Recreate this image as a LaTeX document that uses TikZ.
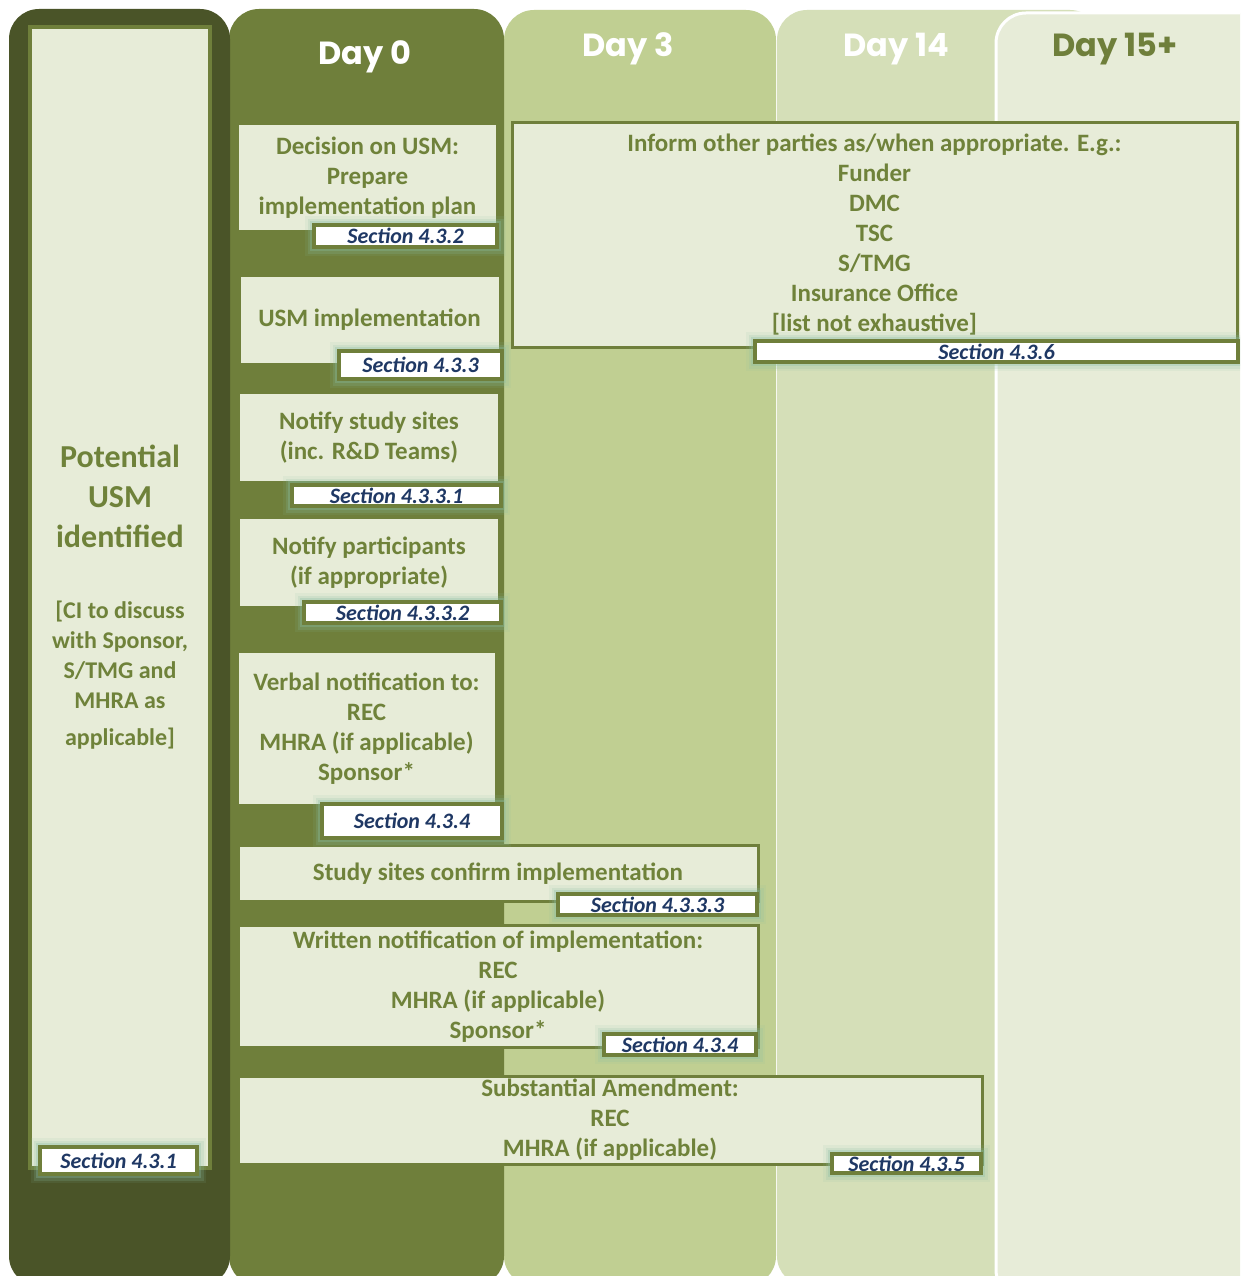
\documentclass[tikz,border=0pt]{standalone}
\usepackage{fontspec}
\setmainfont{Carlito}
\newfontfamily\headfont{Poppins}

\definecolor{leftcol}{RGB}{74,84,40}
\definecolor{dayzero}{RGB}{111,127,59}
\definecolor{daythree}{RGB}{192,207,146}
\definecolor{dayfourteen}{RGB}{213,223,184}
\definecolor{pale}{RGB}{231,236,216}
\definecolor{oltext}{RGB}{111,130,58}
\definecolor{navy}{RGB}{31,56,100}
\definecolor{glow}{RGB}{140,190,165}

\tikzset{
  box/.style={draw=dayzero, line width=3pt, fill=pale, text=oltext, align=center,
    inner sep=0pt, font=\bfseries\fontsize{25}{30}\selectfont},
  seclabel/.style={draw=dayzero, line width=4pt, fill=white, text=navy, inner sep=0pt,
    font=\bfseries\itshape\fontsize{22}{24}\selectfont,
    preaction={draw=glow, line width=18pt, opacity=.1},
    preaction={draw=glow, line width=13pt, opacity=.18},
    preaction={draw=glow, line width=8pt, opacity=.3}},
  dayhead/.style={font=\headfont\bfseries\fontsize{32}{38}\selectfont}
}

\begin{document}
\begin{tikzpicture}[x=1pt,y=-1pt]
        \clip (0,0) rectangle (1240,1276);
        \fill[white] (0,0) rectangle (1240,1276);

        % day columns
        \fill[dayfourteen, rounded corners=30] (777,10) rectangle (1100,1286);
        \filldraw[fill=pale, draw=white, line width=3pt, rounded corners=30] (996,13) rectangle (1290,1300);
        \fill[daythree, rounded corners=30] (504,10) rectangle (776,1286);
        \fill[dayzero, rounded corners=30] (229,9) rectangle (504,1286);
        \fill[leftcol, rounded corners=30] (9,9) rectangle (230,1286);

        % day headers
        \node[dayhead, text=white] (day0) at (365,57) {Day 0};
        \node[dayhead, text=white] (day3) at (628,49) {Day 3};
        \node[dayhead, text=white] (day14) at (896,49) {Day 14};
        \node[dayhead, text=dayzero] (day15) at (1115,49) {Day 15+};

        % left column
        \node[box, line width=4pt, minimum width=180, minimum height=1141] (usm) at (120,597.5) {};
        \node[text=oltext, align=center, font=\bfseries\fontsize{32}{40}\selectfont] (potential) at (120,496)
            {Potential\\USM\\identified};
        \node[text=oltext, align=center, font=\bfseries\fontsize{24}{30}\selectfont] (discuss) at (120,675)
            {[CI to discuss\\with Sponsor,\\S/TMG and\\MHRA as\\[7pt]applicable]};

        % day 0 boxes
        \node[box, minimum width=260, minimum height=108] (decide) at (367.5,177.5)
            {Decision on USM:\\Prepare\\implementation plan};
        \node[box, minimum width=261, minimum height=89] (implement) at (369.5,320)
            {USM implementation};
        \node[box, minimum width=261, minimum height=90] (sites) at (369,437.5)
            {Notify study sites\\(inc. R\&D Teams)};
        \node[box, minimum width=261, minimum height=90] (participants) at (369,562.5)
            {Notify participants\\(if appropriate)};
        \node[box, minimum width=259, minimum height=154] (verbal) at (366.5,728.5)
            {Verbal notification to:\\REC\\MHRA (if applicable)\\Sponsor*};

        % wide boxes
        \node[box, minimum width=520, minimum height=56] (confirm) at (498,873.5)
            {Study sites confirm implementation};
        \node[box, minimum width=520, minimum height=122] (written) at (498,986.5)
            {Written notification of implementation:\\REC\\MHRA (if applicable)\\Sponsor*};
        \node[box, minimum width=744, minimum height=88] (amend) at (610,1120)
            {Substantial Amendment:\\REC\\MHRA (if applicable)};
        \node[box, minimum width=725, minimum height=224] (inform) at (874.5,235)
            {Inform other parties as/when appropriate. E.g.:\\Funder\\DMC\\TSC\\S/TMG\\Insurance Office\\{[list not exhaustive]}};

        % section labels
        \node[seclabel, minimum width=157, minimum height=27] (s431) at (118.5,1160.5) {Section 4.3.1};
        \node[seclabel, minimum width=183, minimum height=22] (s432) at (405.5,236) {Section 4.3.2};
        \node[seclabel, minimum width=163, minimum height=28] (s433) at (420.5,365) {Section 4.3.3};
        \node[seclabel, minimum width=209, minimum height=21] (s4331) at (396.5,495.5) {Section 4.3.3.1};
        \node[seclabel, minimum width=197, minimum height=21] (s4332) at (402.5,612.5) {Section 4.3.3.2};
        \node[seclabel, minimum width=180, minimum height=34] (s434a) at (412,821) {Section 4.3.4};
        \node[seclabel, minimum width=199, minimum height=21] (s4333) at (657.5,904.5) {Section 4.3.3.3};
        \node[seclabel, minimum width=152, minimum height=21] (s434b) at (680,1044.5) {Section 4.3.4};
        \node[seclabel, minimum width=149, minimum height=19] (s435) at (906.5,1163.5) {Section 4.3.5};
        \node[seclabel, minimum width=483, minimum height=21] (s436) at (996.5,351.5) {Section 4.3.6};
\end{tikzpicture}
\end{document}
